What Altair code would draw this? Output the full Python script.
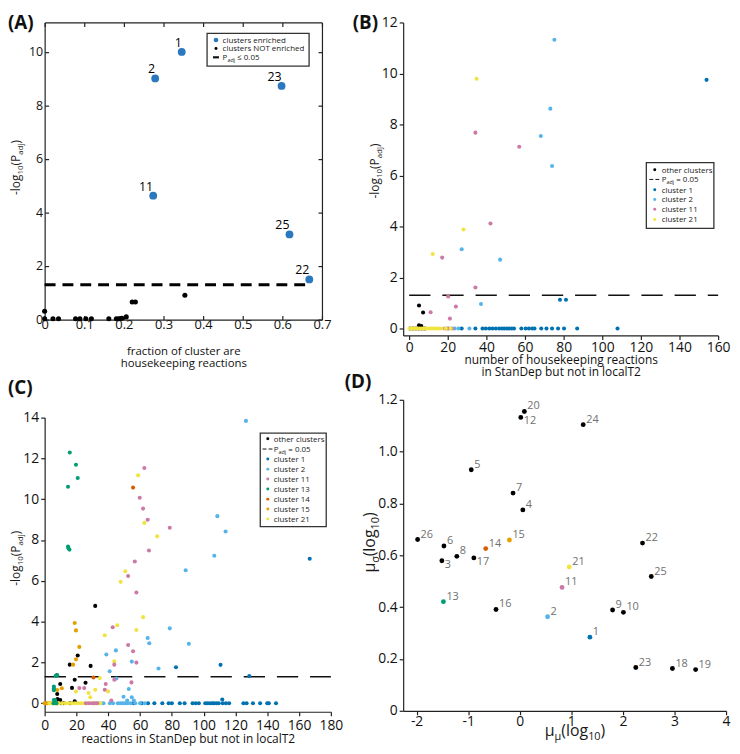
import altair as alt
import pandas as pd

FONT = "Open Sans"
INK = "#1a1a1a"

# ======================= DATA =======================
THRESHOLD = 1.301  # -log10(0.05)

# ---- Panel A ----
a_enriched_id = ["1", "2", "23", "11", "25", "22"]
a_enriched_frac = [0.346, 0.279, 0.598, 0.274, 0.618, 0.668]
a_enriched_logp = [10.00, 9.01, 8.73, 4.63, 3.18, 1.50]
a_other_frac = [0.000, 0.000, 0.021, 0.035, 0.078, 0.089, 0.104, 0.118, 0.162,
                0.181, 0.187, 0.192, 0.195, 0.206, 0.221, 0.229, 0.354]
a_other_logp = [0.31, 0.03, 0.03, 0.03, 0.03, 0.03, 0.03, 0.03, 0.03,
                0.03, 0.03, 0.04, 0.05, 0.10, 0.66, 0.66, 0.91]
a_threshold_end = 0.672
a_x_ticks = [0, 0.1, 0.2, 0.3, 0.4, 0.5, 0.6, 0.7]
a_y_ticks = [0, 2, 4, 6, 8, 10]

# ---- Panel B ----
b_other_x = [5.1, 7.2, 5.1, 6.3, 0.5, 2.0, 3.5, 5.0, 6.5, 8.0]
b_other_y = [0.90, 0.63, 0.13, 0.10, 0, 0, 0, 0, 0, 0]
b_c1_x = [154.0, 78.1, 81.2, 27.2, 34.3, 38.0, 39.7, 41.5, 43.2, 44.9, 46.6, 48.0, 49.2,
          50.5, 51.7, 53.1, 54.3, 58.1, 60.3, 62.0, 63.7, 64.9, 68.4, 71.1, 74.0, 77.1,
          80.2, 87.0, 107.9]
b_c1_y = [9.75, 1.13, 1.13, 0, 0, 0, 0, 0, 0, 0, 0, 0, 0,
          0, 0, 0, 0, 0, 0, 0, 0, 0, 0, 0, 0, 0,
          0, 0, 0]
b_c2_x = [75.2, 73.1, 68.2, 74.0, 27.2, 47.1, 37.2, 31.2, 25.5, 23.5, 20.5]
b_c2_y = [11.32, 8.62, 7.55, 6.37, 3.11, 2.70, 0.96, 0, 0, 0, 0]
b_c11_x = [34.3, 57.0, 42.1, 17.1, 34.3, 20.2, 24.2, 11.1, 21.1, 18.5, 19.8, 22.2]
b_c11_y = [7.68, 7.13, 4.12, 2.78, 1.61, 1.26, 0.86, 0.64, 0.39, 0, 0, 0]
b_c21_x = [34.9, 28.1, 12.2, 0.2, 1.2, 2.2, 3.2, 4.2, 5.2, 6.2, 7.2, 8.2, 9.2, 10.2,
           11.2, 12.2, 13.2, 14.2, 15.4, 16.6, 19.0, 21.5]
b_c21_y = [9.79, 3.88, 2.92, 0, 0, 0, 0, 0, 0, 0, 0, 0, 0, 0,
           0, 0, 0, 0, 0, 0, 0, 0]
b_x_ticks = [0, 20, 40, 60, 80, 100, 120, 140, 160]
b_y_ticks = [0, 2, 4, 6, 8, 10, 12]

# ---- Panel C ----
c_other_x = [31.8, 20.8, 15.8, 28.9, 7.7, 18.9, 9.8, 17.2, 25.7, 7.9, 8.1, 9.8, 18.9,
             8.0, 10.5, 12.0, 16.0]
c_other_y = [4.77, 2.34, 1.89, 1.83, 1.37, 1.15, 0.94, 0.75, 1.00, 0.45, 0.21, 0.16, 0.10,
             0, 0, 0, 0]
c_c1_x = [166.7, 82.6, 110.6, 128.7, 111.7, 56.0, 61.0, 65.0, 69.0, 74.0, 78.0, 80.0,
          85.0, 88.0, 93.0, 95.0, 97.0, 101.0, 102.5, 104.0, 105.5, 106.5, 108.0, 109.5,
          112.0, 114.0, 116.0, 125.0, 127.0, 131.0, 135.5, 140.0, 141.0, 145.5]
c_c1_y = [7.08, 1.76, 1.88, 1.33, 0.18, 0, 0, 0, 0, 0, 0, 0,
          0, 0, 0, 0, 0, 0, 0, 0, 0, 0, 0, 0,
          0, 0, 0, 0, 0, 0, 0, 0, 0, 0]
c_c2_x = [126.6, 108.6, 113.8, 106.7, 88.7, 78.7, 64.8, 65.8, 90.7, 44.8, 38.8, 54.8,
          71.6, 40.9, 45.1, 52.9, 49.6, 54.8, 51.9, 56.1, 33.0, 35.0, 37.0, 41.0, 43.0,
          46.0, 47.5, 49.0, 50.5, 52.0, 54.0, 57.0, 60.0, 63.0]
c_c2_y = [13.84, 9.17, 8.42, 7.23, 6.52, 3.67, 3.20, 2.94, 2.91, 2.59, 2.39, 2.04,
          1.70, 1.57, 1.21, 0.70, 0.32, 0.29, 0.13, 0.13, 0, 0, 0, 0, 0,
          0, 0, 0, 0, 0, 0, 0, 0, 0]
c_c11_x = [62.7, 59.8, 61.9, 64.8, 78.7, 65.6, 56.7, 52.5, 57.7, 42.8, 52.5, 55.6, 43.8,
           57.7, 38.4, 54.6, 24.9, 21.8, 37.8, 43.8, 41.9, 26.0, 28.0, 30.0, 31.5, 33.0]
c_c11_y = [11.53, 10.07, 9.54, 8.99, 8.60, 7.49, 6.95, 6.24, 5.43, 3.72, 2.85, 2.55, 1.89,
           1.99, 0.94, 1.02, 0.74, 0.74, 0.66, 1.15, 0.13, 0, 0, 0, 0, 0]
c_c13_x = [15.8, 19.7, 20.8, 14.7, 14.7, 15.6, 15.0, 6.9, 7.9, 5.8, 5.8, 5.8, 5.8, 6.6,
           5.6, 6.6, 7.4]
c_c13_y = [12.29, 11.69, 11.04, 10.61, 7.68, 7.53, 7.60, 1.34, 1.37, 0.82, 0.72, 0.64,
           0.16, 0.16, 0, 0, 0]
c_c14_x = [55.6, 30.7]
c_c14_y = [10.57, 1.26]
c_c15_x = [18.9, 19.7, 21.8, 19.7, 17.9, 10.8, 7.9, 0.0, 1.0, 2.0, 3.0, 4.0, 5.0, 6.0]
c_c15_y = [3.93, 3.57, 2.76, 2.15, 1.89, 0.73, 0.65, 0, 0, 0, 0, 0, 0, 0]
c_c21_x = [58.8, 62.7, 70.8, 50.7, 47.8, 61.9, 45.7, 57.7, 37.8, 43.8, 34.7, 19.7, 27.6,
           28.7, 31.8, 39.9, 3, 5, 7, 9, 11, 13, 15, 17, 19, 21, 23, 25, 27, 29, 31, 33, 35]
c_c21_y = [11.17, 8.84, 8.18, 6.47, 5.95, 4.22, 3.82, 3.59, 3.33, 2.05, 1.23, 0.57, 0.50,
           0.29, 0.66, 0.58, 0, 0, 0, 0, 0, 0, 0, 0, 0, 0, 0, 0, 0, 0, 0, 0, 0]
c_x_ticks = [0, 20, 40, 60, 80, 100, 120, 140, 160, 180]
c_y_ticks = [0, 2, 4, 6, 8, 10, 12, 14]

# ---- Panel D ----
d_id = ["1", "2", "3", "4", "5", "6", "7", "8", "9", "10", "11", "12", "13",
        "14", "15", "16", "17", "18", "19", "20", "21", "22", "23", "24", "25", "26"]
d_mu = [1.36, 0.54, -1.51, 0.06, -0.94, -1.47, -0.13, -1.22, 1.80, 2.01, 0.82, 0.02, -1.48,
        -0.66, -0.20, -0.46, -0.89, 2.96, 3.41, 0.09, 0.96, 2.38, 2.25, 1.23, 2.55, -1.98]
d_sigma = [0.284, 0.363, 0.579, 0.775, 0.930, 0.636, 0.840, 0.596, 0.389, 0.380, 0.476,
           1.132, 0.421, 0.626, 0.659, 0.391, 0.590, 0.163, 0.159, 1.155, 0.555, 0.647,
           0.167, 1.104, 0.518, 0.661]
d_labels_below = ["12", "3", "17"]
d_x_ticks = [-2, -1, 0, 1, 2, 3, 4]
d_y_ticks = [0, 0.2, 0.4, 0.6, 0.8, 1.0, 1.2]

# ======================= STYLE =======================
CLUSTER_COLORS = {
    "other clusters": "#000000",
    "cluster 1": "#0072B2",
    "cluster 2": "#56B4E9",
    "cluster 11": "#CC79A7",
    "cluster 13": "#009E73",
    "cluster 14": "#D55E00",
    "cluster 15": "#E69F00",
    "cluster 21": "#F0E442",
}
A_BLUE = "#2a78bd"

CW = {" ": 0.26, "-": 0.322, "(": 0.296, ")": 0.296, ".": 0.266, "=": 0.572, "≤": 0.572,
      "P": 0.603, "a": 0.556, "d": 0.613, "j": 0.258, "l": 0.258, "o": 0.602, "g": 0.539,
      "μ": 0.618, "σ": 0.594}
for _d in "0123456789":
    CW[_d] = 0.572

DUMMY = pd.DataFrame({"k": [0]})


def tw(s, fs):
    return fs * sum(CW.get(c, 0.56) for c in s)


def text_piece(t, fs, x, y, angle=0, color=INK, weight="normal", baseline="alphabetic"):
    return alt.Chart(DUMMY).mark_text(
        text=t, font=FONT, fontSize=fs, align="left", baseline=baseline, angle=angle,
        color=color, fontWeight=weight,
    ).encode(x=alt.value(x), y=alt.value(y))


def rich(pieces, ax, ay, angle=0, centered=True, color=INK):
    total = sum(tw(t, fs) for t, fs, _ in pieces)
    pos = -total / 2 if centered else 0.0
    out = []
    for t, fs, sh in pieces:
        stripped = t.lstrip(" ")
        pos += tw(t[: len(t) - len(stripped)], fs)
        if angle == 0:
            out.append(text_piece(stripped, fs, ax + pos, ay + sh, 0, color))
        else:
            out.append(text_piece(stripped, fs, ax + sh, ay - pos, 270, color))
        pos += tw(stripped, fs)
    return out


def ylog_title(ax, ay):
    return rich([("-log", 12, 0), ("10", 8, 3), ("(P", 12, 0), ("adj", 8, 3), (")", 12, 0)],
                ax, ay, angle=270)


def box(x0, y0, x1, y1):
    return alt.Chart(DUMMY).mark_rect(fill="white", stroke="#333333", strokeWidth=1.3).encode(
        x=alt.value(x0), x2=alt.value(x1), y=alt.value(y0), y2=alt.value(y1))


def dot(x, y, size, color):
    return alt.Chart(DUMMY).mark_circle(size=size, color=color, opacity=1).encode(
        x=alt.value(x), y=alt.value(y))


def seg(x0, x1, y, width, dash=None):
    kw = dict(color="#111111", strokeWidth=width)
    if dash:
        kw["strokeDash"] = dash
    return alt.Chart(DUMMY).mark_rule(**kw).encode(x=alt.value(x0), x2=alt.value(x1), y=alt.value(y))


def panel_letter(letter, x, y):
    return text_piece(letter, 19, x, y, 0, "#111111", "bold", "top")


def cluster_frame(parts):
    frames = []
    for name, xs, ys in parts:
        frames.append(pd.DataFrame({"cluster": name, "x": xs, "y": ys}))
    return pd.concat(frames, ignore_index=True)


def open_axis(values, size=14, pad=2, **kw):
    return alt.Axis(values=values, tickSize=4, labelPadding=pad, labelFontSize=size,
                    labelOverlap=False, labelFlush=False, **kw)


LEG_FS = 8

# ======================= PANEL A =======================
AW, AH = 280, 300
a_xs = alt.Scale(domain=[0, 0.7], nice=False, zero=False)
a_ys = alt.Scale(domain=[0, 11.1], nice=False, zero=False)
IN_TICK = alt.ExprRef(expr="-4")

a_enr_df = pd.DataFrame({"id": a_enriched_id, "x": a_enriched_frac, "y": a_enriched_logp})
a_oth_df = pd.DataFrame({"x": a_other_frac, "y": a_other_logp})
a_thr_df = pd.DataFrame({"x0": [0.0], "x1": [a_threshold_end], "y": [THRESHOLD]})

a_layers = [
    alt.Chart(a_oth_df).mark_circle(size=26, color="black", opacity=1).encode(
        x=alt.X("x:Q", scale=a_xs, axis=alt.Axis(
            values=a_x_ticks, format=".1~f", tickSize=IN_TICK, labelPadding=3, labelFontSize=13,
            labelOverlap=False,
            title=["fraction of cluster are", "housekeeping reactions"], titleFontSize=11.5,
            titleLineHeight=12.5, titlePadding=14)),
        y=alt.Y("y:Q", scale=a_ys, axis=alt.Axis(
            values=a_y_ticks, tickSize=IN_TICK, labelPadding=6, labelFontSize=12.5,
            labelOverlap=False, title=None)),
    ),
    alt.Chart(a_oth_df).mark_circle(opacity=0).encode(
        x=alt.X("x:Q", scale=a_xs, axis=alt.Axis(orient="top", values=a_x_ticks, labels=False,
                                                 tickSize=IN_TICK, title=None)),
        y=alt.Y("y:Q", scale=a_ys, axis=alt.Axis(orient="right", values=a_y_ticks, labels=False,
                                                 tickSize=IN_TICK, title=None)),
    ),
    alt.Chart(a_thr_df).mark_rule(color="black", strokeWidth=3, strokeDash=[11, 7]).encode(
        x=alt.X("x0:Q", scale=a_xs, axis=None), x2="x1:Q",
        y=alt.Y("y:Q", scale=a_ys, axis=None)),
    alt.Chart(a_enr_df).mark_circle(size=62, color=A_BLUE, opacity=1).encode(
        x=alt.X("x:Q", scale=a_xs, axis=None), y=alt.Y("y:Q", scale=a_ys, axis=None)),
    alt.Chart(a_enr_df).mark_text(align="right", baseline="bottom", dx=0, dy=-2, fontSize=12.5,
                                  font=FONT, color="black").encode(
        x=alt.X("x:Q", scale=a_xs, axis=None), y=alt.Y("y:Q", scale=a_ys, axis=None), text="id:N"),
    # legend
    box(164, 11, 267, 44),
    dot(173, 17.7, 22, A_BLUE),
    dot(173, 26.3, 9, "black"),
    seg(170, 176, 35.2, 2.2),
]
a_layers += rich([("clusters enriched", LEG_FS, 0)], 179.7, 20.6, centered=False)
a_layers += rich([("clusters NOT enriched", LEG_FS, 0)], 179.7, 29.2, centered=False)
a_layers += rich([("P", LEG_FS, 0), ("adj", 5.5, 2), (" ≤ 0.05", LEG_FS, 0)], 179.7, 38.2, centered=False)
a_layers += ylog_title(-25, 146.5)
a_layers.append(panel_letter("(A)", -37, -8))

panel_a = alt.layer(*a_layers).resolve_axis(x="independent", y="independent").properties(
    width=AW, height=AH)

# ======================= PANEL B =======================
BW, BH = 318, 316
b_xs = alt.Scale(domain=[-3.1, 160], nice=False, zero=False)
b_ys = alt.Scale(domain=[-0.27, 12], nice=False, zero=False)
b_xaxis = open_axis(b_x_ticks, pad=1,
                    title=["number of housekeeping reactions", "in StanDep but not in localT2"],
                    titleFontSize=12, titleLineHeight=12.5, titlePadding=0)
b_yaxis = open_axis(b_y_ticks, title=None)
b_order = ["other clusters", "cluster 1", "cluster 2", "cluster 11", "cluster 21"]
b_df = cluster_frame([
    ("other clusters", b_other_x, b_other_y),
    ("cluster 1", b_c1_x, b_c1_y),
    ("cluster 2", b_c2_x, b_c2_y),
    ("cluster 11", b_c11_x, b_c11_y),
    ("cluster 21", b_c21_x, b_c21_y),
])
b_thr_df = pd.DataFrame({"x0": [0.0], "x1": [160.0], "y": [THRESHOLD]})

b_layers = [
    alt.Chart(b_thr_df).mark_rule(color="#111111", strokeWidth=1.5, strokeDash=[21.5, 12]).encode(
        x=alt.X("x0:Q", scale=b_xs, axis=b_xaxis), x2="x1:Q",
        y=alt.Y("y:Q", scale=b_ys, axis=b_yaxis),
    ),
    alt.Chart(b_df).mark_circle(size=17, opacity=1).encode(
        x=alt.X("x:Q", scale=b_xs, axis=b_xaxis),
        y=alt.Y("y:Q", scale=b_ys, axis=b_yaxis),
        color=alt.Color("cluster:N", legend=None, scale=alt.Scale(
            domain=b_order, range=[CLUSTER_COLORS[c] for c in b_order])),
    ),
    box(245.5, 141.5, 313.7, 208),
    dot(254, 148.7, 9, "black"),
    seg(248.5, 258.5, 158.5, 1, [4, 2.2]),
]
b_rows_y = [151.6, 161.4, 171.9, 181.6, 191.6, 201.9]
b_layers += rich([("other clusters", LEG_FS, 0)], 261, b_rows_y[0], centered=False)
b_layers += rich([("P", LEG_FS, 0), ("adj", 5.5, 2), (" = 0.05", LEG_FS, 0)], 261, b_rows_y[1], centered=False)
for i, name in enumerate(["cluster 1", "cluster 2", "cluster 11", "cluster 21"]):
    b_layers.append(dot(254, b_rows_y[i + 2] - 2.9, 9, CLUSTER_COLORS[name]))
    b_layers += rich([(name, LEG_FS, 0)], 261, b_rows_y[i + 2], centered=False)
b_layers += ylog_title(-24, 150)
b_layers.append(panel_letter("(B)", -51, -8))

panel_b = alt.layer(*b_layers).properties(width=BW, height=BH)

# ======================= PANEL C =======================
CWID, CH = 289, 297
c_xs = alt.Scale(domain=[0, 180], nice=False, zero=False)
c_ys = alt.Scale(domain=[-0.42, 14], nice=False, zero=False)
c_xaxis = open_axis(c_x_ticks, pad=3, title="reactions in StanDep but not in localT2",
                    titleFontSize=12, titlePadding=1)
c_yaxis = open_axis(c_y_ticks, title=None)
c_legend_order = ["cluster 1", "cluster 2", "cluster 11", "cluster 13", "cluster 14",
                  "cluster 15", "cluster 21"]
c_df = cluster_frame([
    ("other clusters", c_other_x, c_other_y),
    ("cluster 1", c_c1_x, c_c1_y),
    ("cluster 2", c_c2_x, c_c2_y),
    ("cluster 15", c_c15_x, c_c15_y),
    ("cluster 21", c_c21_x, c_c21_y),
    ("cluster 11", c_c11_x, c_c11_y),
    ("cluster 13", c_c13_x, c_c13_y),
    ("cluster 14", c_c14_x, c_c14_y),
])
c_thr_df = pd.DataFrame({"x0": [0.0], "x1": [180.0], "y": [THRESHOLD]})
c_all = ["other clusters"] + c_legend_order

c_layers = [
    alt.Chart(c_thr_df).mark_rule(color="#111111", strokeWidth=1.5, strokeDash=[21.5, 12]).encode(
        x=alt.X("x0:Q", scale=c_xs, axis=c_xaxis), x2="x1:Q",
        y=alt.Y("y:Q", scale=c_ys, axis=c_yaxis),
    ),
    alt.Chart(c_df).mark_circle(size=17, opacity=1).encode(
        x=alt.X("x:Q", scale=c_xs, axis=c_xaxis),
        y=alt.Y("y:Q", scale=c_ys, axis=c_yaxis),
        color=alt.Color("cluster:N", legend=None, scale=alt.Scale(
            domain=c_all, range=[CLUSTER_COLORS[c] for c in c_all])),
    ),
    box(217.7, 15.7, 284.3, 110),
    dot(225.3, 21.3, 9, "black"),
    seg(220, 230, 31.7, 1, [4, 2.2]),
]
c_rows_c = [21.3, 31.7, 41.7, 52, 62, 72, 82.3, 92.3, 102.3]
c_layers += rich([("other clusters", LEG_FS, 0)], 231.3, c_rows_c[0] + 2.9, centered=False)
c_layers += rich([("P", LEG_FS, 0), ("adj", 5.5, 2), (" = 0.05", LEG_FS, 0)], 231.3,
                 c_rows_c[1] + 2.9, centered=False)
for i, name in enumerate(c_legend_order):
    c_layers.append(dot(225.3, c_rows_c[i + 2], 9, CLUSTER_COLORS[name]))
    c_layers += rich([(name, LEG_FS, 0)], 231.3, c_rows_c[i + 2] + 2.9, centered=False)
c_layers += ylog_title(-25, 142)
c_layers.append(panel_letter("(C)", -37, -39))

panel_c = alt.layer(*c_layers).properties(width=CWID, height=CH)

# ======================= PANEL D =======================
DW, DH = 326, 314
d_xs = alt.Scale(domain=[-2.26, 4], nice=False, zero=False)
d_ys = alt.Scale(domain=[0, 1.2], nice=False, zero=False)
d_xaxis = open_axis(d_x_ticks, pad=0, labelExpr="'' + datum.value", title=None)
d_yaxis = open_axis(d_y_ticks, labelExpr="datum.value == 0 ? '0' : format(datum.value, '.1f')",
                    title=None)
d_cluster = ["cluster " + i if ("cluster " + i) in CLUSTER_COLORS else "other clusters" for i in d_id]
d_df = pd.DataFrame({"id": d_id, "x": d_mu, "y": d_sigma, "cluster": d_cluster})
d_df["below"] = d_df["id"].isin(d_labels_below)

d_layers = [
    alt.Chart(d_df).mark_circle(size=24, opacity=1).encode(
        x=alt.X("x:Q", scale=d_xs, axis=d_xaxis),
        y=alt.Y("y:Q", scale=d_ys, axis=d_yaxis),
        color=alt.Color("cluster:N", legend=None, scale=alt.Scale(
            domain=c_all, range=[CLUSTER_COLORS[c] for c in c_all])),
    ),
    alt.Chart(d_df).transform_filter("!datum.below").mark_text(
        align="left", baseline="middle", dx=3, dy=-5, fontSize=11, font=FONT, color="#707070").encode(
        x=alt.X("x:Q", scale=d_xs, axis=d_xaxis), y=alt.Y("y:Q", scale=d_ys, axis=d_yaxis),
        text="id:N"),
    alt.Chart(d_df).transform_filter("datum.below").mark_text(
        align="left", baseline="middle", dx=3, dy=4, fontSize=11, font=FONT, color="#707070").encode(
        x=alt.X("x:Q", scale=d_xs, axis=d_xaxis), y=alt.Y("y:Q", scale=d_ys, axis=d_yaxis),
        text="id:N"),
]
d_layers += rich([("μ", 16, 0), ("σ", 11, 4), ("(log", 16, 0), ("10", 11, 4), (")", 16, 0)],
                 -28, 144, angle=270)
d_layers += rich([("μ", 16, 0), ("μ", 11, 4), ("(log", 16, 0), ("10", 11, 4), (")", 16, 0)],
                 173.5, 339)
d_layers.append(panel_letter("(D)", -59, -27))

panel_d = alt.layer(*d_layers).properties(width=DW, height=DH)

# ======================= LAYOUT =======================
chart = alt.hconcat(
    alt.vconcat(panel_a, panel_c, spacing=10),
    alt.vconcat(panel_b, panel_d, spacing=-5),
    spacing=1,
).properties(
    padding={"left": 0, "top": 3, "right": 1, "bottom": 2}, background="white",
).configure_view(stroke=None).configure_axis(
    grid=False, domainColor="#222222", domainWidth=1.2, tickColor="#222222", tickWidth=1.2,
    labelColor="#111111", titleColor="#111111", labelFont=FONT, titleFont=FONT,
    titleFontWeight="normal", labelFlush=False, labelOverlap=False,
)

chart.save("out.html", embed_options={"renderer": "svg", "actions": False})
